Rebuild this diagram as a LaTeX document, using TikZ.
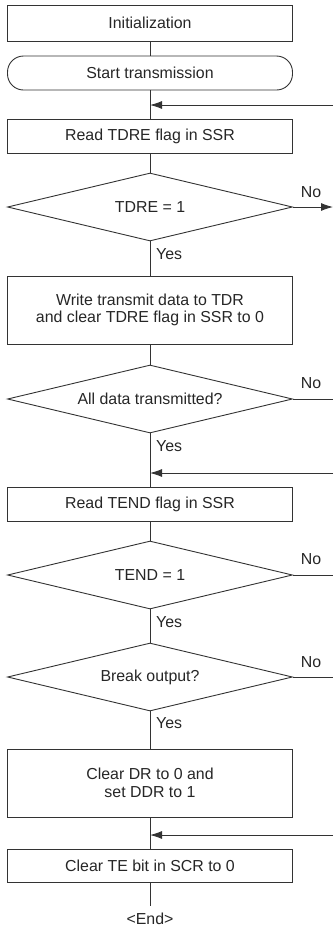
\documentclass[tikz,border=0pt]{standalone}
\usepackage{fontspec}
\setmainfont{Liberation Sans}
\usetikzlibrary{shapes.geometric,arrows.meta}
\begin{document}
\begin{tikzpicture}[x=1pt,y=-1pt,
  every node/.style={font=\fontsize{15.9}{17.5}\selectfont, text=black!85},
  line/.style={draw=black!80, line width=0.9pt},
  proc/.style={line, rectangle, minimum width=285pt, inner sep=0pt, align=center},
  term/.style={line, rectangle, rounded corners=16pt, minimum width=285pt, minimum height=34pt, inner sep=0pt},
  dec/.style={line, diamond, minimum width=285pt, minimum height=68pt, shape aspect=4.2, inner sep=0pt},
  lbl/.style={inner sep=0pt},
  arr/.style={line, -{Latex[length=12pt,width=8pt]}}
]
\useasboundingbox (0,0) rectangle (333,927);
\node[proc, minimum height=36pt] (init) at (150,23) {Initialization};
\node[term] (start) at (150,73) {Start transmission};
\node[proc, minimum height=34pt] (rd1) at (150,136) {Read TDRE flag in SSR};
\node[dec] (d1) at (150,207) {TDRE = 1};
\node[proc, minimum height=68pt] (wr) at (150,310) {Write transmit data to TDR\\and clear TDRE flag in SSR to 0};
\node[dec] (d2) at (150,399) {All data transmitted?};
\node[proc, minimum height=34pt] (rd2) at (150,504) {Read TEND flag in SSR};
\node[dec] (d3) at (150,575) {TEND = 1};
\node[dec] (d4) at (150,677) {Break output?};
\node[proc, minimum height=68pt] (clr) at (150,783) {Clear DR to 0 and\\set DDR to 1};
\node[proc, minimum height=33pt] (te) at (150,865.5) {Clear TE bit in SCR to 0};
\node[lbl] (end) at (150,919) {<End>};

\coordinate (r1) at (333,105);
\coordinate (r2) at (333,473);
\coordinate (r3) at (333,835);
\coordinate (n1) at (333,207);
\coordinate (n2) at (333,399);
\coordinate (n3) at (333,575);
\coordinate (n4) at (333,677);
\coordinate (e1) at (150,906);

\draw[line] (init) -- (start);
\draw[line] (start) -- (rd1);
\draw[arr] (r1) -- (rd1.north |- r1);
\draw[line] (rd1) -- (d1);
\draw[arr] (d1.east) -- (n1);
\draw[line] (d1) -- (wr);
\draw[line] (wr) -- (d2);
\draw[line] (d2.east) -- (n2);
\draw[line] (d2) -- (rd2);
\draw[arr] (r2) -- (rd2.north |- r2);
\draw[line] (rd2) -- (d3);
\draw[line] (d3.east) -- (n3);
\draw[line] (d3) -- (d4);
\draw[line] (d4.east) -- (n4);
\draw[line] (d4) -- (clr);
\draw[line] (clr) -- (te);
\draw[arr] (r3) -- (te.north |- r3);
\draw[line] (te) -- (e1);

\node[lbl, anchor=west] (y1) at (156,254) {Yes};
\node[lbl, anchor=west] (y2) at (156,446) {Yes};
\node[lbl, anchor=west] (y3) at (156,622) {Yes};
\node[lbl, anchor=west] (y4) at (156,723) {Yes};
\node[lbl] (no1) at (311,192) {No};
\node[lbl] (no2) at (311,383) {No};
\node[lbl] (no3) at (311,559) {No};
\node[lbl] (no4) at (311,662) {No};
\end{tikzpicture}
\end{document}
